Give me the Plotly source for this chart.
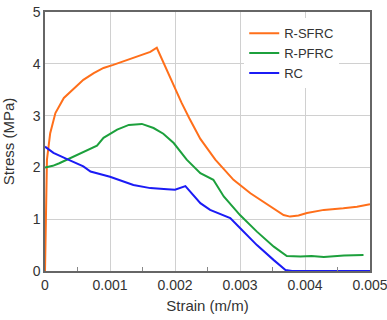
import plotly.graph_objects as go

# R-SFRC
sfrc_x = [0, 0.00002, 0.00003, 0.00008, 0.00016, 0.00029, 0.00045, 0.00059, 0.00075, 0.0009, 0.00105, 0.00121,
          0.00137, 0.00152, 0.00162, 0.00172, 0.00185, 0.00198, 0.00210, 0.00222, 0.00239, 0.00262, 0.0029,
          0.00316, 0.00347, 0.00367, 0.00377, 0.0039, 0.00403, 0.00429, 0.00459, 0.0048, 0.005]
sfrc_y = [0, 1.4, 2.15, 2.66, 3.05, 3.34, 3.52, 3.69, 3.82, 3.92, 3.98, 4.05,
          4.12, 4.2, 4.23, 4.31, 3.95, 3.56, 3.25, 2.95, 2.55, 2.15, 1.76,
          1.5, 1.24, 1.08, 1.05, 1.07, 1.12, 1.18, 1.21, 1.24, 1.29]

# R-PFRC
pfrc_x = [0, 0.00012, 0.00022, 0.00034, 0.00054, 0.0008, 0.0009, 0.00111, 0.00129, 0.0014, 0.00149, 0.00167,
          0.00182, 0.00198, 0.00218, 0.00239, 0.00259, 0.00275, 0.003, 0.00326, 0.00352, 0.00372, 0.00393,
          0.0041, 0.00429, 0.0046, 0.0049]
pfrc_y = [2.0, 2.03, 2.08, 2.15, 2.28, 2.42, 2.57, 2.73, 2.82, 2.83, 2.84, 2.76,
          2.65, 2.47, 2.15, 1.89, 1.76, 1.44, 1.08, 0.76, 0.47, 0.29, 0.28,
          0.29, 0.27, 0.3, 0.31]

# RC
rc_x = [0, 0.00013, 0.00034, 0.00059, 0.0007, 0.001, 0.00136, 0.00162, 0.00188, 0.002, 0.00216, 0.00239,
        0.00254, 0.00285, 0.003, 0.00326, 0.00352, 0.0037, 0.0038, 0.005]
rc_y = [2.4, 2.28, 2.16, 2.02, 1.92, 1.82, 1.66, 1.6, 1.58, 1.57, 1.64, 1.31,
        1.18, 1.02, 0.83, 0.5, 0.21, 0.02, 0, 0]

x_ticks = [0, 0.001, 0.002, 0.003, 0.004, 0.005]
x_tick_labels = ["0", "0.001", "0.002", "0.003", "0.004", "0.005"]
y_ticks = [0, 1, 2, 3, 4, 5]

fig = go.Figure()
fig.add_trace(go.Scatter(x=sfrc_x, y=sfrc_y, mode="lines", name="R-SFRC",
                         line=dict(color="#FF6F1A", width=2)))
fig.add_trace(go.Scatter(x=pfrc_x, y=pfrc_y, mode="lines", name="R-PFRC",
                         line=dict(color="#1CA03C", width=2)))
fig.add_trace(go.Scatter(x=rc_x, y=rc_y, mode="lines", name="RC",
                         line=dict(color="#1B1BF5", width=2)))

font_family = "Liberation Sans, Arial, sans-serif"
fig.update_layout(
    width=387, height=320,
    margin=dict(l=45, r=17, t=12, b=49, autoexpand=False),
    paper_bgcolor="white", plot_bgcolor="white",
    font=dict(family=font_family, size=14, color="#333"),
    legend=dict(x=0.613, y=0.976, xanchor="left", yanchor="top",
                bgcolor="white", borderwidth=0, font=dict(size=13),
                tracegroupgap=0),
    xaxis=dict(range=[0, 0.005], tickvals=x_ticks, ticktext=x_tick_labels,
               automargin=False, ticklabeloverflow="allow",
               showgrid=True, gridcolor="#d0d0d0", gridwidth=1,
               showline=True, linecolor="#666", linewidth=1.5, mirror=True,
               ticks="", zeroline=False,
               minor=dict(tickvals=[0.0005, 0.0015, 0.0025, 0.0035, 0.0045], ticks="inside",
                          ticklen=4, tickcolor="#888", showgrid=False),
               title=dict(text="Strain (m/m)", font=dict(size=15), standoff=9)),
    yaxis=dict(range=[0, 5], tickvals=y_ticks, automargin=False, ticklabeloverflow="allow",
               showgrid=True, gridcolor="#d0d0d0", gridwidth=1,
               showline=True, linecolor="#666", linewidth=1.5, mirror=True,
               ticks="", zeroline=False,
               title=dict(text="Stress (MPa)", font=dict(size=15), standoff=15)),
)

fig.write_html("out.html", config={"displayModeBar": False},
               post_script="document.body.style.margin='0';")
